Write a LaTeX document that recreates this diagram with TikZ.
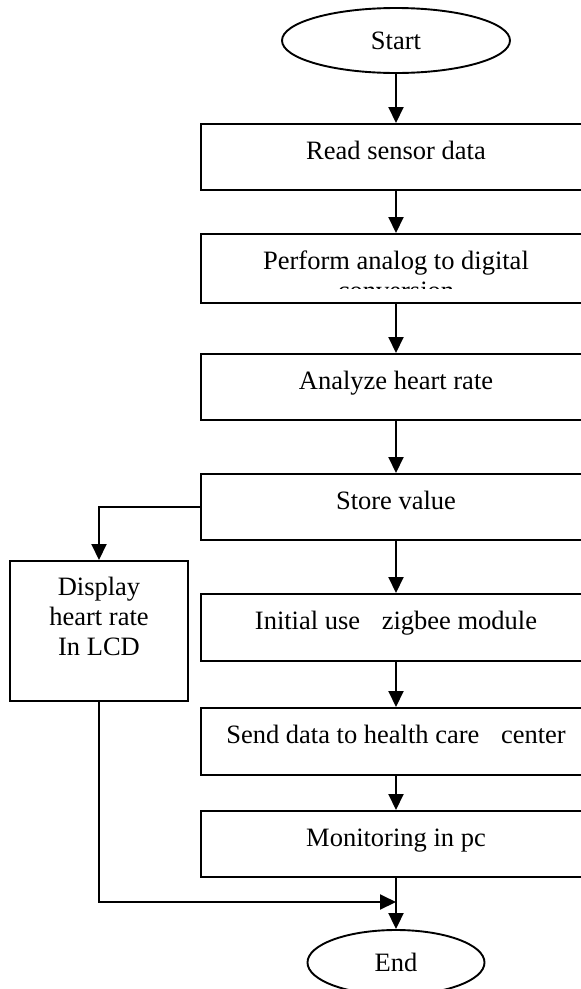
\documentclass[tikz,border=0pt]{standalone}
\usepackage{fontspec}
\setmainfont{Liberation Serif}
\usetikzlibrary{shapes.geometric,arrows.meta}
\begin{document}
\begin{tikzpicture}[x=1pt,y=-1pt,
  every node/.style={font=\fontsize{26.5pt}{30pt}\selectfont},
  stepbox/.style={draw,line width=1.9pt,minimum width=390pt,inner sep=0pt,text height=36pt,text depth=30pt,anchor=north},
  term/.style={draw,ellipse,line width=1.9pt,inner sep=0pt,minimum height=65pt},
  arr/.style={line width=2pt,-{Triangle[length=16pt,width=15pt]}}]
\useasboundingbox (0,0) rectangle (581,989);
\clip (0,0) rectangle (581,989);
% terminals
\node[term,minimum width=228pt] (start) at (396,40.5) {Start};
\node[term,minimum width=177pt] (end) at (396,962.5) {End};
% main column
\node[stepbox] (read) at (396,123) {Read sensor data};
\node[stepbox,text depth=33pt] (adc) at (396,233) {Perform analog to digital};
\begin{scope}
\clip (201,233) rectangle (591,288.5);
\node[anchor=base] (conv) at (396,299) {conversion};
\end{scope}
\node[stepbox] (ana) at (396,353) {Analyze heart rate};
\node[stepbox] (store) at (396,473) {Store value};
\node[stepbox,text depth=31pt] (zig) at (396,593) {Initial use\hspace{15pt} zigbee module};
\node[stepbox,text depth=31pt] (send) at (396,707) {Send data to health care\hspace{15pt} center};
\node[stepbox] (mon) at (396,810) {Monitoring in pc};
% side branch
\node[stepbox,minimum width=178pt,text height=35pt,text depth=105pt] (disp) at (99,560)
  {\begin{tabular}[t]{@{}c@{}}Display\\heart rate\\In LCD\end{tabular}};
\coordinate (join) at (396,902);
% connectors
\draw[arr] (start) -- (read);
\foreach \a/\b in {read/adc,adc/ana,ana/store,store/zig,zig/send,send/mon,mon/end}
  \draw[arr] (\a) -- (\b);
\draw[arr] (store.west) -| (disp.north);
\draw[arr] (disp.south) |- (join);
\end{tikzpicture}
\end{document}
